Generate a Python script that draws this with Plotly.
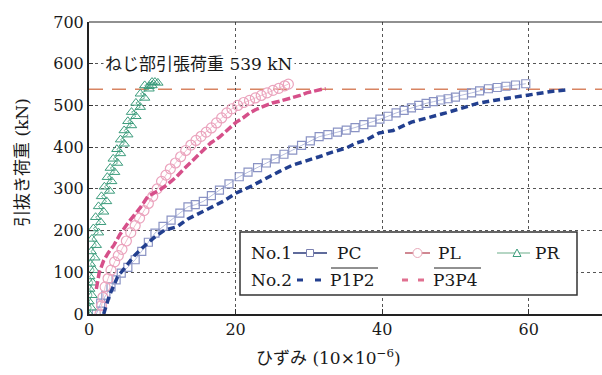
import plotly.graph_objects as go

# ---------------- data ----------------
PR_X = [0.0, 0.3, 0.0, 0.4, 0.1, 0.5, 0.1, 0.7, 0.2, 0.8, 0.3, 1.0, 0.4, 1.3, 0.6, 1.6, 0.9, 2.0, 1.3, 2.4,
        1.7, 2.8, 2.1, 3.1, 2.5, 3.5, 2.9, 3.9, 3.3, 4.3, 3.8, 4.8, 4.3, 5.3, 4.8, 5.8, 5.3, 6.4, 5.8, 7.0,
        6.4, 7.6, 7.0, 8.2, 7.6, 8.6, 8.2, 9.0, 8.6, 9.4]
PR_Y = [0, 15, 30, 45, 60, 75, 90, 105, 120, 135, 150, 165, 180, 195, 205, 220, 232, 245, 258, 270,
        282, 295, 305, 318, 328, 340, 350, 362, 372, 385, 395, 408, 418, 430, 440, 452, 462, 474, 484, 496,
        506, 518, 528, 540, 548, 556, 546, 556, 548, 554]

PL_X = [1.5, 1.7, 1.9, 2.2, 2.6, 3.0, 3.5, 4.0, 4.5, 5.1, 5.7, 6.3, 6.9, 7.5, 8.1, 8.7, 9.3, 9.9, 10.5,
        11.1, 11.8, 12.5, 13.2, 13.9, 14.6, 15.3, 16.0, 16.7, 17.4, 18.1, 18.8, 19.5, 20.3, 21.1, 21.9,
        22.7, 23.5, 24.3, 25.1, 25.9, 26.7, 27.2]
PL_Y = [0, 20, 40, 65, 85, 105, 125, 140, 155, 175, 195, 212, 230, 248, 265, 282, 300, 318, 333,
        348, 362, 377, 392, 405, 416, 426, 436, 446, 458, 470, 482, 492, 500, 507, 512,
        518, 524, 530, 536, 541, 547, 551]

PC_X = [1.0, 1.6, 2.3, 3.0, 3.7, 4.4, 5.3, 6.3, 7.2, 8.1, 9.0, 10.1, 11.2, 12.4, 13.5, 14.5, 15.6, 16.7,
        17.8, 19.1, 20.5, 21.7, 23.0, 24.2, 25.4, 26.6, 27.8, 29.0, 30.2, 31.4, 32.6, 33.9, 35.1, 36.3,
        37.5, 38.6, 39.7, 40.8, 41.9, 43.0, 44.0, 45.0, 46.0, 47.0, 48.0, 49.0, 50.0, 51.1, 52.2, 53.3,
        54.5, 55.7, 56.9, 58.2, 59.6]
PC_Y = [0, 26, 45, 65, 82, 98, 112, 130, 150, 172, 194, 210, 225, 242, 257, 262, 270, 284,
        297, 312, 329, 340, 351, 362, 372, 383, 393, 404, 415, 425, 430, 436, 441, 447,
        454, 460, 467, 474, 482, 488, 494, 500, 505, 509, 513, 516, 520, 525, 530, 535,
        540, 543, 546, 549, 552]

P1P2_X = [2.0, 2.8, 3.9, 5.0, 6.2, 7.5, 8.8, 10.3, 12.0, 13.5, 15.0, 16.5, 18.3, 20.1, 22.1, 24.2, 26.0,
          27.8, 29.6, 31.4, 33.2, 35.1, 36.5, 37.8, 39.6, 41.5, 44.0, 46.3, 48.7, 51.0, 53.0, 55.2,
          57.4, 59.6, 61.5, 63.3, 65.0]
P1P2_Y = [0, 45, 89, 115, 140, 162, 182, 201, 209, 228, 242, 254, 270, 290, 306, 326, 342,
          357, 366, 377, 388, 398, 410, 417, 434, 440, 460, 470, 482, 494, 505, 512,
          518, 525, 530, 534, 537]

P3P4_X = [1.0, 1.4, 2.0, 2.6, 3.4, 4.2, 5.3, 6.0, 7.0, 8.0, 8.8, 10.3, 11.2, 12.0, 12.8, 13.8, 14.8,
          16.0, 16.6, 17.8, 18.8, 20.1, 21.0, 21.9, 23.0, 24.0, 25.0, 26.0, 27.0, 27.8, 28.8, 29.7,
          30.7, 31.8, 32.3]
P3P4_Y = [60, 100, 128, 146, 165, 190, 218, 232, 255, 281, 290, 305, 318, 330, 345, 362, 380,
          400, 410, 424, 440, 460, 470, 482, 492, 500, 506, 510, 515, 518, 524, 530,
          535, 539, 540]

LIMIT = 539
X_TICKS = [0, 20, 40, 60]
Y_TICKS = [0, 100, 200, 300, 400, 500, 600, 700]

# ---------------- styling ----------------
FONT = "DejaVu Serif, Noto Sans CJK JP, serif"
W, H = 602, 375
L, R, T, B = 89, 0, 22, 61
PW, PH = W - L - R, H - T - B


def px(x):
    return (x - L) / PW


def py(y):
    return (H - B - y) / PH


C_PC = "#8a93c4"
C_PL = "#eba3bd"
C_PR = "#3c9c7c"
C_P1P2 = "#223f8f"
C_P3P4 = "#d6508a"
C_LIM = "#d88462"
TXT = "#1a1a1a"

fig = go.Figure()

fig.add_trace(go.Scatter(x=PC_X, y=PC_Y, mode="lines+markers",
                         line=dict(color="#b8bede", width=1),
                         marker=dict(symbol="square-open", size=8, color=C_PC, line=dict(width=1.2))))
fig.add_trace(go.Scatter(x=PL_X, y=PL_Y, mode="lines+markers",
                         line=dict(color="#f0c0d0", width=1),
                         marker=dict(symbol="circle-open", size=10, color=C_PL, line=dict(width=1.2))))
fig.add_trace(go.Scatter(x=PR_X, y=PR_Y, mode="lines+markers",
                         line=dict(color="#6fb89c", width=1),
                         marker=dict(symbol="triangle-up-open", size=9, color=C_PR, line=dict(width=1))))
fig.add_trace(go.Scatter(x=P1P2_X, y=P1P2_Y, mode="lines",
                         line=dict(color=C_P1P2, width=3.5, dash="7px,4px")))
fig.add_trace(go.Scatter(x=P3P4_X, y=P3P4_Y, mode="lines",
                         line=dict(color=C_P3P4, width=3.5, dash="8px,3px")))

shapes = []
# limit line
shapes.append(dict(type="line", xref="paper", yref="y", x0=0, x1=1, y0=LIMIT, y1=LIMIT,
                   line=dict(color=C_LIM, width=1.5, dash="14px,9px"), layer="below"))
# top frame line
shapes.append(dict(type="line", xref="paper", yref="paper", x0=0, x1=1, y0=1, y1=1,
                   line=dict(color="#222", width=1.2)))
# legend box
shapes.append(dict(type="rect", xref="paper", yref="paper", x0=px(240), x1=px(577), y0=py(232), y1=py(295),
                   line=dict(color="#333", width=1.5), fillcolor="white", layer="above"))
ROW1, ROW2 = 253, 280
# legend row 1 symbols
shapes.append(dict(type="line", xref="paper", yref="paper", x0=px(293), x1=px(327), y0=py(ROW1), y1=py(ROW1),
                   line=dict(color="#2a3a7a", width=1.5)))
shapes.append(dict(type="rect", xref="paper", yref="paper", x0=px(306.5), x1=px(313.5), y0=py(ROW1 - 3.5), y1=py(ROW1 + 3.5),
                   line=dict(color="#7a80b0", width=1), fillcolor="white"))
shapes.append(dict(type="line", xref="paper", yref="paper", x0=px(405), x1=px(430), y0=py(ROW1), y1=py(ROW1),
                   line=dict(color="#c0606e", width=1.5)))
shapes.append(dict(type="circle", xref="paper", yref="paper", x0=px(413), x1=px(422), y0=py(ROW1 - 4.5), y1=py(ROW1 + 4.5),
                   line=dict(color="#e8a8b8", width=1), fillcolor="white"))
shapes.append(dict(type="line", xref="paper", yref="paper", x0=px(497), x1=px(530), y0=py(ROW1), y1=py(ROW1),
                   line=dict(color="#9cc8b0", width=1.5)))
shapes.append(dict(type="path", xref="paper", yref="paper",
                   path=f"M {px(513)} {py(ROW1 + 3.5)} L {px(521)} {py(ROW1 + 3.5)} L {px(517)} {py(ROW1 - 4)} Z",
                   line=dict(color=C_PR, width=1), fillcolor="white"))
# legend row 2 dashes
for x0, x1, c in [(297, 303, C_P1P2), (315, 321, C_P1P2), (402, 408, "#e07090"), (418, 424, "#e07090")]:
    shapes.append(dict(type="line", xref="paper", yref="paper", x0=px(x0), x1=px(x1), y0=py(ROW2), y1=py(ROW2),
                       line=dict(color=c, width=3)))
# overlines
for x0, x1 in [(331, 378), (434, 481)]:
    shapes.append(dict(type="line", xref="paper", yref="paper", x0=px(x0), x1=px(x1), y0=py(268), y1=py(268),
                       line=dict(color="#222", width=1)))

ann = []
LF = 17


def tx(text, x, y, size=LF, xanchor="left"):
    ann.append(dict(text=text, xref="paper", yref="paper", x=px(x), y=py(y), showarrow=False,
                    xanchor=xanchor, yanchor="middle", font=dict(family=FONT, size=size, color=TXT)))


tx("No.1", 249, ROW1)
tx("PC", 335, ROW1)
tx("PL", 436, ROW1)
tx("PR", 533, ROW1)
tx("No.2", 249, ROW2)
tx("P1P2", 328, ROW2)
tx("P3P4", 431, ROW2)

# limit annotation
ann.append(dict(text=f"ねじ部引張荷重 {LIMIT} kN", xref="paper", yref="paper", x=px(199), y=py(64),
                showarrow=False, xanchor="center", yanchor="middle", bgcolor="white",
                font=dict(family=FONT, size=17, color=TXT)))
# axis titles
ann.append(dict(text="引抜き荷重 (kN)", xref="paper", yref="paper", x=px(22), y=py(163),
                showarrow=False, textangle=-90, xanchor="center", yanchor="middle",
                font=dict(family=FONT, size=17, color=TXT)))
ann.append(dict(text="ひずみ (10×10<sup>−6</sup>)", xref="paper", yref="paper", x=px(328), y=py(357),
                showarrow=False, xanchor="center", yanchor="middle",
                font=dict(family=FONT, size=17, color=TXT)))

fig.update_layout(
    width=W, height=H, margin=dict(l=L, r=R, t=T, b=B, autoexpand=False),
    paper_bgcolor="white", plot_bgcolor="white", showlegend=False,
    shapes=shapes, annotations=ann,
    font=dict(family=FONT, size=16, color=TXT),
)
fig.update_xaxes(range=[0, 70], tickvals=X_TICKS, ticks="inside", ticklen=5, tickcolor="#333",
                 showline=True, linecolor="#222", linewidth=2, showgrid=True, gridcolor="#555",
                 griddash="dot", gridwidth=1, zeroline=False, automargin=False,
                 tickfont=dict(size=16, family=FONT, color=TXT))
fig.update_yaxes(range=[0, 700], tickvals=Y_TICKS, ticks="inside", ticklen=4, tickcolor="#333",
                 showline=True, linecolor="#222", linewidth=2, showgrid=True, gridcolor="#555",
                 griddash="dot", gridwidth=1, zeroline=False, automargin=False,
                 tickfont=dict(size=16, family=FONT, color=TXT))

fig.write_html("out.html", config={"displayModeBar": False},
               post_script="document.body.style.margin='0';document.body.style.overflow='hidden';")
